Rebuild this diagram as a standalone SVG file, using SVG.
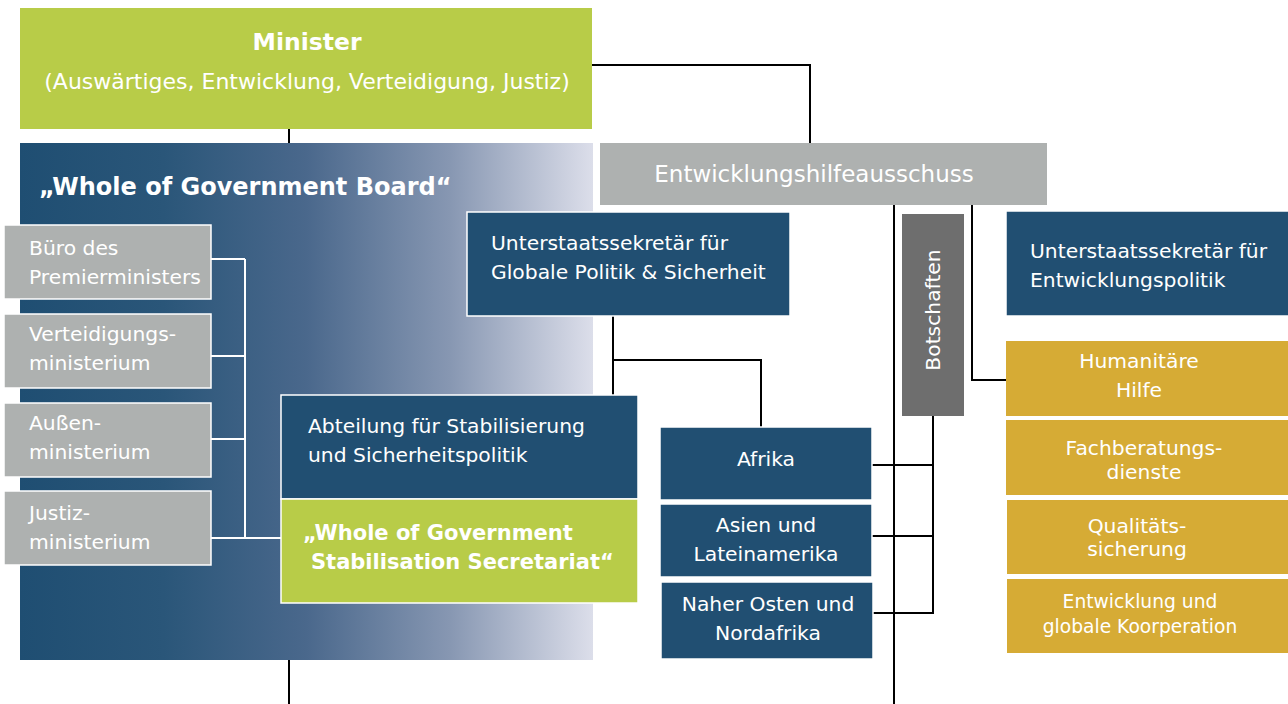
<svg xmlns="http://www.w3.org/2000/svg" width="1288" height="704" viewBox="0 0 1288 704">
<defs>
<linearGradient id="boardGrad" x1="0" y1="0" x2="1" y2="0">
<stop offset="0" stop-color="#1F4E72"/>
<stop offset="0.25" stop-color="#2A5679"/>
<stop offset="0.5" stop-color="#4A688C"/>
<stop offset="0.75" stop-color="#8797B2"/>
<stop offset="1" stop-color="#DCDEEA"/>
</linearGradient>
<style>
text{font-family:"DejaVu Sans","Liberation Sans",sans-serif;fill:#fff;}
.blue{fill:#214F72;stroke:#fff;stroke-width:1.5;}
.green{fill:#B8CC48;}
.grey{fill:#AEB1B0;stroke:#fff;stroke-width:1.5;}
.gold{fill:#D6AB35;}
.t19{font-size:20.3px;}
.b{font-weight:bold;}
.c{text-anchor:middle;}
.conn{stroke:#000;stroke-width:2;fill:none;}
.wconn{stroke:#fff;stroke-width:2;fill:none;}
</style>
</defs>
<rect width="1288" height="704" fill="#fff"/>
<g id="connectors">
<path class="conn" d="M592 65H810V143"/>
<path class="conn" d="M289 129V143"/>
<path class="conn" d="M289 660V704"/>
<path class="conn" d="M894 205V704"/>
<path class="conn" d="M972 205V380H1006"/>
<path class="conn" d="M613 316V395"/>
<path class="conn" d="M613 360H761V427"/>
<path class="conn" d="M933 416V614"/>
<path class="conn" d="M872 465H933M872 536H933M873 613H933"/>
</g>
<g id="minister">
<rect class="green" x="20" y="8" width="572" height="121"/>
<text class="c b" x="307" y="50" font-size="23.5">Minister</text>
<text class="c" x="307" y="89" font-size="22">(Auswärtiges, Entwicklung, Verteidigung, Justiz)</text>
</g>
<g id="board">
<rect x="20" y="143" width="573" height="517" fill="url(#boardGrad)"/>
<text class="b" x="39" y="195" font-size="24">„Whole of Government Board“</text>
</g>
<g id="board-connectors">
<path class="wconn" d="M211 259H245M211 356H245M211 439H245M211 538H281M245 259V538"/>
</g>
<g id="buero">
<rect class="grey" x="4" y="225" width="207" height="74"/>
<text class="t19" x="29" y="255">Büro des</text>
<text class="t19" x="29" y="284">Premierministers</text>
</g>
<g id="verteidigung">
<rect class="grey" x="4" y="314" width="207" height="74"/>
<text class="t19" x="29" y="341">Verteidigungs-</text>
<text class="t19" x="29" y="370">ministerium</text>
</g>
<g id="aussen">
<rect class="grey" x="4" y="403" width="207" height="74"/>
<text class="t19" x="29" y="430">Außen-</text>
<text class="t19" x="29" y="459">ministerium</text>
</g>
<g id="justiz">
<rect class="grey" x="4" y="491" width="207" height="74"/>
<text class="t19" x="29" y="520">Justiz-</text>
<text class="t19" x="29" y="549">ministerium</text>
</g>
<g id="abteilung">
<rect class="blue" x="281" y="395" width="357" height="104"/>
<text class="t19" x="308" y="433">Abteilung für Stabilisierung</text>
<text class="t19" x="308" y="462">und Sicherheitspolitik</text>
</g>
<g id="secretariat">
<rect class="green" x="281" y="499" width="357" height="104" stroke="#fff" stroke-width="1.5"/>
<text class="b" x="303" y="540" font-size="21">„Whole of Government</text>
<text class="b" x="311" y="569" font-size="21">Stabilisation Secretariat“</text>
</g>
<g id="ausschuss">
<rect x="600" y="143" width="447" height="62" fill="#AEB1B0"/>
<text class="c" x="814" y="182" font-size="23">Entwicklungshilfeausschuss</text>
</g>
<g id="usek-global">
<rect class="blue" x="467" y="212" width="323" height="104"/>
<text class="t19" x="491" y="250">Unterstaatssekretär für</text>
<text class="t19" x="491" y="279">Globale Politik &amp; Sicherheit</text>
</g>
<g id="botschaften">
<rect x="902" y="214" width="62" height="202" fill="#6E6E6E"/>
<text class="c t19" transform="translate(940 310) rotate(-90)">Botschaften</text>
</g>
<g id="usek-entw">
<rect class="blue" x="1006" y="211" width="290" height="105"/>
<text class="t19" x="1030" y="258">Unterstaatssekretär für</text>
<text class="t19" x="1030" y="287">Entwicklungspolitik</text>
</g>
<g id="afrika">
<rect class="blue" x="660" y="427" width="212" height="73"/>
<text class="c t19" x="766" y="466">Afrika</text>
</g>
<g id="asien">
<rect class="blue" x="660" y="504" width="212" height="73"/>
<text class="c t19" x="766" y="532">Asien und</text>
<text class="c t19" x="766" y="561">Lateinamerika</text>
</g>
<g id="nahost">
<rect class="blue" x="661" y="582" width="212" height="77"/>
<text class="c t19" x="768" y="611">Naher Osten und</text>
<text class="c t19" x="768" y="640">Nordafrika</text>
</g>
<g id="humanitaer">
<rect class="gold" x="1006" y="341" width="282" height="75"/>
<text class="c t19" x="1139" y="368">Humanitäre</text>
<text class="c t19" x="1139" y="397">Hilfe</text>
</g>
<g id="fachberatung">
<rect class="gold" x="1006" y="420" width="282" height="75"/>
<text class="c t19" x="1144" y="455">Fachberatungs-</text>
<text class="c t19" x="1144" y="479">dienste</text>
</g>
<g id="qualitaet">
<rect class="gold" x="1007" y="500" width="281" height="74"/>
<text class="c t19" x="1137" y="533">Qualitäts-</text>
<text class="c t19" x="1137" y="556">sicherung</text>
</g>
<g id="entwicklung">
<rect class="gold" x="1007" y="579" width="281" height="74"/>
<text class="c" x="1140" y="608" font-size="18.7">Entwicklung und</text>
<text class="c" x="1140" y="633" font-size="18.7">globale Koorperation</text>
</g>
</svg>
